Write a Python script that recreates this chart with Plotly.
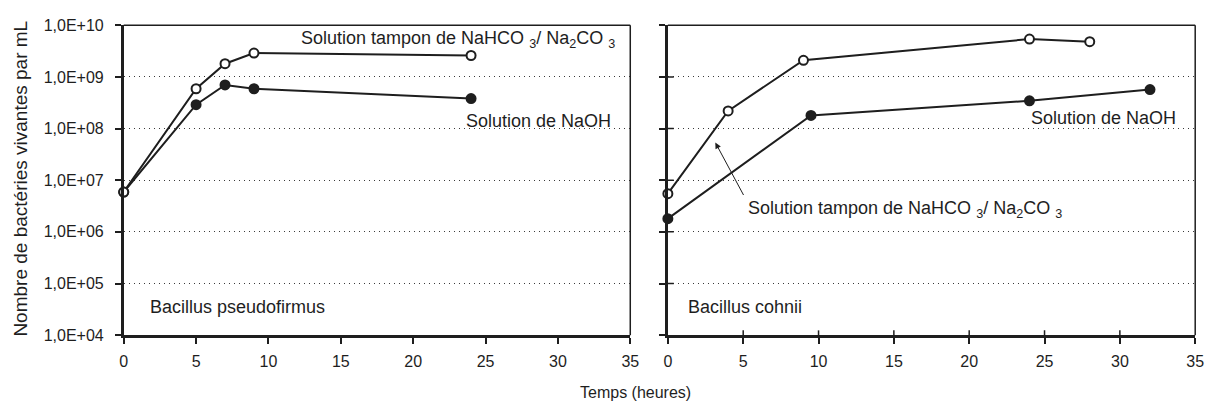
import plotly.graph_objects as go

# Bacillus pseudofirmus
bp_hours = [0, 5, 7, 9, 24]
bp_buffer = [5.9e6, 5.9e8, 1.8e9, 2.9e9, 2.6e9]
bp_naoh = [5.9e6, 2.9e8, 7.0e8, 5.9e8, 3.8e8]

# Bacillus cohnii
bc_hours_buffer = [0, 4, 9, 24, 28]
bc_buffer = [5.5e6, 2.2e8, 2.1e9, 5.4e9, 4.8e9]
bc_hours_naoh = [0, 9.5, 24, 32]
bc_naoh = [1.8e6, 1.8e8, 3.45e8, 5.7e8]

y_tickvals = [1e4, 1e5, 1e6, 1e7, 1e8, 1e9, 1e10]
y_ticktext = ["1,0E+04", "1,0E+05", "1,0E+06", "1,0E+07", "1,0E+08", "1,0E+09", "1,0E+10"]
x_tickvals = [0, 5, 10, 15, 20, 25, 30, 35]

INK = "#1e1e1e"
FONT = "Liberation Sans, Arial, sans-serif"
BUFFER_LABEL = "Solution tampon de NaHCO <sub>3</sub>/ Na<sub>2</sub>CO <sub>3</sub>"

fig = go.Figure()


def add_series(x, y, xa, ya, filled):
    fig.add_trace(go.Scatter(
        x=x, y=y, xaxis=xa, yaxis=ya, mode="lines+markers",
        line=dict(color=INK, width=2),
        marker=dict(size=9, symbol="circle",
                    color=INK if filled else "white",
                    line=dict(color=INK, width=2)),
        cliponaxis=False, showlegend=False, hoverinfo="skip"))


add_series(bp_hours, bp_naoh, "x", "y", True)
add_series(bp_hours, bp_buffer, "x", "y", False)
add_series(bc_hours_naoh, bc_naoh, "x2", "y2", True)
add_series(bc_hours_buffer, bc_buffer, "x2", "y2", False)

W, H = 1223, 419
xdom1 = [121 / W, 633 / W]
xdom2 = [671 / W, 1204 / W]
ydom = [1 - 341 / H, 1 - 18 / H]

xcommon = dict(range=[0, 35], tickvals=x_tickvals, ticks="outside", ticklen=6,
               tickwidth=1.5, tickcolor=INK, showline=True, linecolor=INK,
               linewidth=2.5, showgrid=False, zeroline=False,
               ticklabelstandoff=4,
               tickfont=dict(family=FONT, size=16, color=INK))
ycommon = dict(type="log", range=[4, 10], tickvals=y_tickvals, ticktext=y_ticktext,
               ticks="outside", ticklen=6, tickwidth=1.5, tickcolor=INK,
               showline=True, linecolor=INK, linewidth=2.5,
               showgrid=True, gridcolor="#3a3a3a", gridwidth=1,
               griddash="1.5px,3.5px", ticklabelstandoff=8,
               zeroline=False, tickfont=dict(family=FONT, size=16, color=INK))

fig.update_layout(
    width=W, height=H, margin=dict(l=0, r=0, t=0, b=0),
    paper_bgcolor="white", plot_bgcolor="white",
    xaxis=dict(domain=xdom1, anchor="y", **xcommon),
    yaxis=dict(domain=ydom, anchor="x", **ycommon),
    xaxis2=dict(domain=xdom2, anchor="y2", **xcommon),
    yaxis2=dict(domain=ydom, anchor="x2", showticklabels=False, **ycommon),
)

# thinner top and right frame lines
for xr, yr in (("x domain", "y domain"), ("x2 domain", "y2 domain")):
    fig.add_shape(type="line", xref=xr, yref=yr, x0=0, x1=1, y0=1, y1=1,
                  line=dict(color=INK, width=1.5))
    fig.add_shape(type="line", xref=xr, yref=yr, x0=1, x1=1, y0=0, y1=1,
                  line=dict(color=INK, width=1.5))

# the right-hand panel's ticks cross its axes
for v in y_tickvals[1:-1]:
    fig.add_shape(type="line", xref="x2 domain", yref="y2", x0=0, x1=6 / 533,
                  y0=v, y1=v, line=dict(color=INK, width=1.5))
for v in x_tickvals[1:-1]:
    fig.add_shape(type="line", xref="x2", yref="y2 domain", x0=v, x1=v,
                  y0=0, y1=5 / 323, line=dict(color=INK, width=1.5))

label_font = dict(family=FONT, size=18, color=INK)


def label(text, x, y, xref, yref):
    fig.add_annotation(text=text, x=x, y=y, xref=xref, yref=yref,
                       xanchor="left", yanchor="middle", showarrow=False,
                       font=label_font)


label(BUFFER_LABEL, 12.1, 9.72, "x", "y")
label("Solution de NaOH", 23.5, 8.14, "x", "y")
label("Bacillus pseudofirmus", 1.7, 4.54, "x", "y")
label(BUFFER_LABEL, 5.2, 6.43, "x2", "y2")
label("Solution de NaOH", 24.0, 8.2, "x2", "y2")
label("Bacillus cohnii", 1.2, 4.54, "x2", "y2")

# pointer from the lower label to the buffer curve
fig.add_annotation(x=3.15, y=7.73, xref="x2", yref="y2", text="",
                   showarrow=True, ax=29, ay=54, arrowhead=2, arrowsize=1.2,
                   arrowwidth=1, arrowcolor=INK)

# axis titles
fig.add_annotation(text="Temps (heures)", x=638 / W, y=1 - 401 / H,
                   xref="paper", yref="paper", showarrow=False,
                   xanchor="center", yanchor="middle",
                   font=dict(family=FONT, size=16, color=INK))
fig.add_annotation(text="Nombre de bactéries vivantes par mL", x=17 / W,
                   y=1 - 178 / H, xref="paper", yref="paper", showarrow=False,
                   textangle=-90, xanchor="center", yanchor="middle",
                   font=dict(family=FONT, size=19, color=INK))

fig.write_html("out.html")
